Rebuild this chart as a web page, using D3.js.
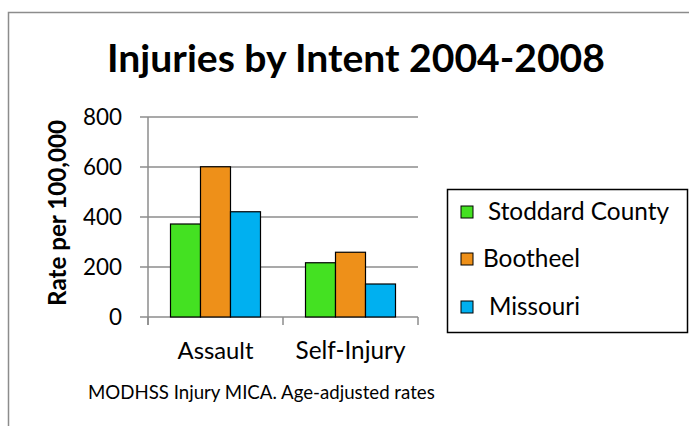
<!DOCTYPE html>
<html>
<head>
<meta charset="utf-8">
<script src="https://cdn.jsdelivr.net/npm/d3@7"></script>
<style>
  body { margin: 0; background: #fff; }
  text { font-family: Lato, "Open Sans", sans-serif; fill: #000; }
</style>
</head>
<body>
<script>
// chart data
var categories = ["Assault", "Self-Injury"];
var seriesNames = ["Stoddard County", "Bootheel", "Missouri"];
var seriesColors = ["#44e122", "#ee9019", "#00b0f0"];
var values = [
    [372, 601, 421],   // Assault
    [217, 259, 132]    // Self-Injury
];
var yTicks = [0, 200, 400, 600, 800];

var W = 689, H = 426;

var svg = d3.select("body")
    .append("svg")
    .attr("width", W)
    .attr("height", H);

// shrink/grow font so text fits a given width
function fitWidth(sel, target) {
    var fs = parseFloat(sel.attr("font-size"));
    var w = sel.node().getComputedTextLength();
    sel.attr("font-size", (fs * target / w).toFixed(2));
}

// outer frame
svg.append("path")
    .attr("d", "M8.5," + H + "V12.5H" + W)
    .attr("fill", "none")
    .attr("stroke", "#8c8c8c")
    .attr("stroke-width", 1.5);

// title
var title = svg.append("text")
    .attr("x", 356)
    .attr("y", 72)
    .attr("text-anchor", "middle")
    .attr("font-weight", "bold")
    .attr("font-size", 32)
    .text("Injuries by Intent 2004-2008");
fitWidth(title, 498);

var plot = { left: 148, right: 418, top: 117, bottom: 317 };

var x0 = d3.scaleBand()
    .domain(categories)
    .range([plot.left, plot.right])
    .paddingInner(0)
    .paddingOuter(0);

var x1 = d3.scaleBand()
    .domain(seriesNames)
    .range([x0.bandwidth() / 6, x0.bandwidth() * 5 / 6]);

var y = d3.scaleLinear()
    .domain([0, 800])
    .range([plot.bottom, plot.top]);

// gridlines
svg.append("g")
    .selectAll("line")
    .data(yTicks)
    .enter()
    .append("line")
    .attr("x1", plot.left - 8)
    .attr("x2", plot.right)
    .attr("y1", function(d) { return y(d); })
    .attr("y2", function(d) { return y(d); })
    .attr("stroke", "#8c8c8c")
    .attr("stroke-width", 1.5);

// y axis line
svg.append("line")
    .attr("x1", plot.left).attr("x2", plot.left)
    .attr("y1", plot.top).attr("y2", plot.bottom + 8)
    .attr("stroke", "#8c8c8c")
    .attr("stroke-width", 1.5);

// category tick marks below axis
var catEdges = categories.map(function(c) { return x0(c); }).concat([plot.right]);
svg.append("g")
    .selectAll("line")
    .data(catEdges)
    .enter()
    .append("line")
    .attr("x1", function(d) { return d; })
    .attr("x2", function(d) { return d; })
    .attr("y1", plot.bottom)
    .attr("y2", plot.bottom + 8)
    .attr("stroke", "#8c8c8c")
    .attr("stroke-width", 1.5);

// y tick labels
var tickLabels = svg.append("g")
    .selectAll("text")
    .data(yTicks)
    .enter()
    .append("text")
    .attr("x", 122)
    .attr("y", function(d) { return y(d) + 8; })
    .attr("text-anchor", "end")
    .attr("font-size", 20)
    .text(function(d) { return d; });
// size from the widest label, "800" is about 39px wide
var label800 = tickLabels.filter(function(d) { return d == 800; });
fitWidth(label800, 39);
tickLabels.attr("font-size", label800.attr("font-size"));

// y axis title
var ytitle = svg.append("text")
    .attr("transform", "translate(66,213) rotate(-90)")
    .attr("text-anchor", "middle")
    .attr("font-weight", "bold")
    .attr("font-size", 17)
    .text("Rate per 100,000");
fitWidth(ytitle, 186);

// bars
var groups = svg.append("g")
    .selectAll("g")
    .data(values)
    .enter()
    .append("g")
    .attr("transform", function(d, i) { return "translate(" + x0(categories[i]) + ",0)"; });

groups.selectAll("rect")
    .data(function(d) { return d; })
    .enter()
    .append("rect")
    .attr("x", function(d, i) { return x1(seriesNames[i]); })
    .attr("width", x1.bandwidth())
    .attr("y", function(d) { return y(d); })
    .attr("height", function(d) { return y(0) - y(d); })
    .attr("fill", function(d, i) { return seriesColors[i]; })
    .attr("stroke", "#000")
    .attr("stroke-width", 1.2);

// category labels
var catWidths = [76, 110];
svg.append("g")
    .selectAll("text")
    .data(categories)
    .enter()
    .append("text")
    .attr("x", function(d) { return x0(d) + x0.bandwidth() / 2; })
    .attr("y", 359)
    .attr("text-anchor", "middle")
    .attr("font-size", 20)
    .text(function(d) { return d; })
    .each(function(d, i) { fitWidth(d3.select(this), catWidths[i]); });

// legend
svg.append("rect")
    .attr("x", 447.5)
    .attr("y", 189.5)
    .attr("width", 240)
    .attr("height", 143)
    .attr("fill", "#fff")
    .attr("stroke", "#000")
    .attr("stroke-width", 1.5);

var legendY = [212, 259, 307];
var legendTextX = [488, 483, 489];
var legendWidths = [181, 97, 91];
var leg = svg.append("g")
    .selectAll("g")
    .data(seriesNames)
    .enter()
    .append("g");

leg.append("rect")
    .attr("x", 461)
    .attr("y", function(d, i) { return legendY[i] - 6; })
    .attr("width", 12)
    .attr("height", 12)
    .attr("fill", function(d, i) { return seriesColors[i]; })
    .attr("stroke", "#000")
    .attr("stroke-width", 1);

leg.append("text")
    .attr("x", function(d, i) { return legendTextX[i]; })
    .attr("y", function(d, i) { return legendY[i] + 8; })
    .attr("font-size", 20)
    .text(function(d) { return d; })
    .each(function(d, i) { fitWidth(d3.select(this), legendWidths[i]); });

// source note
var note = svg.append("text")
    .attr("x", 88)
    .attr("y", 399)
    .attr("font-size", 15)
    .text("MODHSS Injury MICA. Age-adjusted rates");
fitWidth(note, 347);
</script>
</body>
</html>
